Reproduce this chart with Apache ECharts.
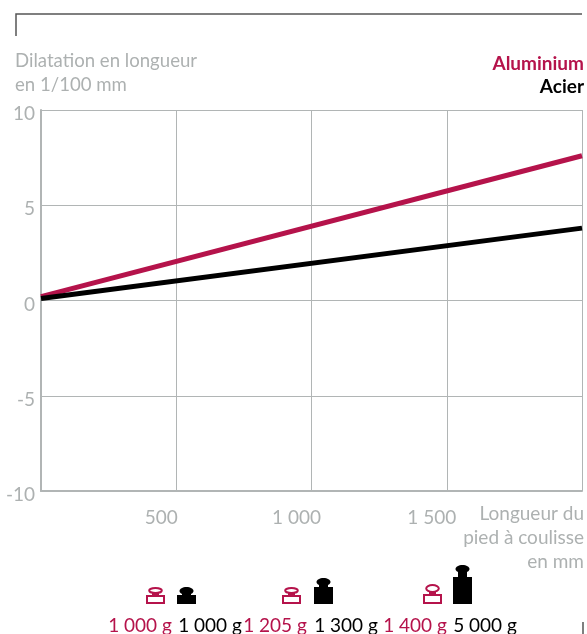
<!DOCTYPE html>
<html>
<head>
<meta charset="utf-8">
<style>
  html, body { margin: 0; padding: 0; background: #fff; }
  #chart { width: 587px; height: 634px; }
</style>
<script src="https://cdn.jsdelivr.net/npm/echarts@6/dist/echarts.min.js"></script>
</head>
<body>
<div id="chart"></div>
<script>
// Data
const lengths = [0, 2000];
const aluminium = [0.2, 7.6];
const steel = [0.1, 3.8];
const yTicks = [10, 5, 0, -5, -10];
const xTickLabels = { 500: '500', 1000: '1 000', 1500: '1 500' };
const weightLabels = ['1 000 g', '1 000 g', '1 205 g', '1 300 g', '1 400 g', '5 000 g'];
const weightLabelX = [140, 210, 275, 346, 415, 485];
const yTitle = 'Dilatation en longueur\nen 1/100 mm';
const xTitle = 'Longueur du\npied à coulisse\nen mm';

const RED = '#b5134b';
const GREY = '#adb1b1';
const GRID = '#b1b5b5';
const FONT = 'Lato, sans-serif';
const SIZE = 19;

function pairs(xs, ys) {
  return xs.map((x, i) => [x, ys[i]]);
}

function outlineWeight(left, top, baseTop) {
  const bottom = 604;
  const ringHeight = baseTop - top - 1;
  return [
    { type: 'rect', shape: { x: left + 6, y: baseTop - 4, width: 7, height: 5 }, style: { fill: RED } },
    { type: 'ellipse', shape: { cx: left + 9.5, cy: top + ringHeight / 2, rx: 6.3, ry: ringHeight / 2 - 1 }, style: { fill: '#fff', stroke: RED, lineWidth: 2 } },
    { type: 'rect', shape: { x: left + 1, y: baseTop + 1, width: 17, height: bottom - baseTop - 2 }, style: { fill: '#fff', stroke: RED, lineWidth: 2 } },
  ];
}

function solidWeight(left, top, shoulder) {
  const bottom = 604;
  return [
    { type: 'ellipse', shape: { cx: left + 9.5, cy: top + 4, rx: 7, ry: 4 }, style: { fill: '#000' } },
    { type: 'rect', shape: { x: left + 5, y: top + 6, width: 9, height: shoulder - top - 4 }, style: { fill: '#000' } },
    { type: 'rect', shape: { x: left, y: shoulder, width: 19, height: bottom - shoulder }, style: { fill: '#000' } },
  ];
}

const chart = echarts.init(document.getElementById('chart'), null, { renderer: 'canvas' });

const textItems = [
  { type: 'text', x: 15, y: 49, style: { text: yTitle, fill: GREY, font: '18.6px ' + FONT, lineHeight: 24 } },
  { type: 'text', x: 584, y: 54, style: { text: 'Aluminium', fill: RED, font: 'bold ' + SIZE + 'px ' + FONT, align: 'right' } },
  { type: 'text', x: 584, y: 77, style: { text: 'Acier', fill: '#000', font: 'bold ' + SIZE + 'px ' + FONT, align: 'right' } },
  { type: 'text', x: 584, y: 502, style: { text: xTitle, fill: GREY, font: SIZE + 'px ' + FONT, align: 'right', lineHeight: 24 } },
];

weightLabels.forEach((label, i) => {
  textItems.push({
    type: 'text',
    x: weightLabelX[i],
    y: 616,
    style: { text: label, fill: i % 2 === 0 ? RED : '#000', font: SIZE + 'px ' + FONT, align: 'center' },
  });
});

const frame = [
  { type: 'polyline', shape: { points: [[16, 36], [16, 14], [582, 14]] }, style: { fill: null, stroke: '#555', lineWidth: 1.5 } },
  { type: 'line', shape: { x1: 583, y1: 622, x2: 583, y2: 634 }, style: { stroke: '#555', lineWidth: 1.5 } },
];

const icons = [].concat(
  outlineWeight(146, 587, 595),
  solidWeight(177, 587, 595),
  outlineWeight(282, 587, 595),
  solidWeight(314, 578, 587),
  outlineWeight(423, 584, 594),
  solidWeight(453, 565, 577)
);

chart.setOption({
  animation: false,
  backgroundColor: '#fff',
  textStyle: { fontFamily: FONT },
  grid: { left: 41, right: 5, top: 110, height: 381, containLabel: false },
  xAxis: {
    type: 'value',
    min: 0,
    max: 2000,
    interval: 500,
    axisLine: { show: true, onZero: false, lineStyle: { color: GRID, width: 2 } },
    axisTick: { show: false },
    splitLine: { show: true, lineStyle: { color: GRID, width: 1 } },
    axisLabel: {
      color: GREY,
      fontSize: SIZE,
      margin: 17,
      padding: [0, 30, 0, 0],
      showMinLabel: false,
      showMaxLabel: false,
      formatter: (value) => xTickLabels[value] || '',
    },
  },
  yAxis: {
    type: 'value',
    min: -10,
    max: 10,
    interval: 5,
    axisLine: { show: true, onZero: false, lineStyle: { color: GRID, width: 2 } },
    axisTick: { show: false },
    splitLine: { show: true, lineStyle: { color: GRID, width: 1 } },
    axisLabel: {
      color: GREY,
      fontSize: SIZE,
      margin: 6,
      verticalAlign: 'top',
      lineHeight: 8,
      showMinLabel: true,
      showMaxLabel: true,
      customValues: yTicks,
    },
  },
  series: [
    {
      name: 'Aluminium',
      type: 'line',
      data: pairs(lengths, aluminium),
      showSymbol: false,
      lineStyle: { color: RED, width: 5, cap: 'butt' },
    },
    {
      name: 'Acier',
      type: 'line',
      data: pairs(lengths, steel),
      showSymbol: false,
      lineStyle: { color: '#000', width: 5, cap: 'butt' },
    },
  ],
  graphic: { elements: frame.concat(textItems, icons) },
});
</script>
</body>
</html>
